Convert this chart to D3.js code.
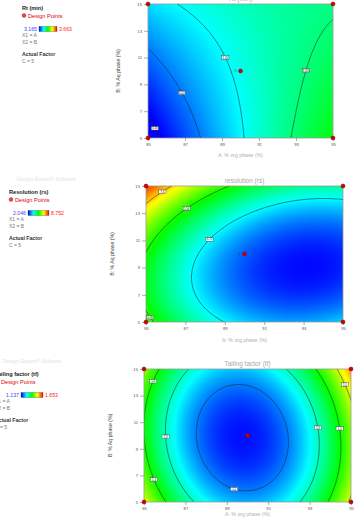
<!DOCTYPE html>
<html><head><meta charset="utf-8">
<script src="https://cdn.jsdelivr.net/npm/d3@7"></script>
<style>body{margin:0;background:#fff}svg{display:block;font-family:"Liberation Sans",Arial,sans-serif}</style>
</head><body>
<svg id="c" width="362" height="517"></svg>
<script>
// ---- data ----
const ticksA = [85, 87, 89, 91, 93, 95];
const ticksB = [5, 7, 9, 11, 13, 15];
const designA = [85, 95, 85, 95, 90];
const designB = [5, 5, 15, 15, 10];
const centerReplicates = "5";

// quadratic response-surface coefficients (coded units): [b0, A, B, AB, A^2, B^2]
const rtCoef = [3.299, 0.0864, 0.0182, -0.0477, -0.010, 0.004];
const rtLevels = [3.16, 3.225, 3.29, 3.355];
const rtRange = [3.165, 3.663];
const rtLabels = [[3.16, 85.2, 5.6], [3.225, 86.7, 8.3], [3.29, 89.2, 11.0], [3.355, 93.2, 10.2]];

const rsCoef = [2.69, -1.62, 0.90, -0.42, 1.22, 1.63];
const rsLevels = [3.72, 5.56, 7.40];
const rsRange = [2.046, 8.752];
const rsLabels = [[7.40, 85.9, 14.4], [5.56, 87.1, 13.3], [3.72, 88.1, 11.2], [5.56, 85.4, 5.6]];

const tfCoef = [1.145, 0.029, 0.007, 0.026, 0.284, 0.088];
const tfLevels = [1.2, 1.3, 1.4, 1.5];
const tfRange = [1.137, 1.653];
const tfLabels = [[1.2, 89.4, 6.3], [1.3, 85.9, 9.9], [1.3, 93.4, 10.6], [1.4, 85.3, 14.2],
                  [1.4, 85.5, 6.7], [1.4, 94.4, 10.5], [1.5, 94.5, 13.7]];

// ---- drawing ----
const svg = d3.select("#c");
const defs = svg.append("defs");
const stopsT = [0, 0.25, 0.5, 0.75, 1];
const stopsC = ["#0000ff", "#00ffff", "#00ff00", "#ffff00", "#ff0000"];

function drawPlot(cfg, idx) {
  const {box, coef, levels, range, labels, title, legend} = cfg;
  const g = svg.append("g");
  const x = d3.scaleLinear().domain([85, 95]).range([box.x0, box.x1]);
  const y = d3.scaleLinear().domain([5, 15]).range([box.y1, box.y0]);
  const model = (a, b) => coef[0] + coef[1]*a + coef[2]*b + coef[3]*a*b + coef[4]*a*a + coef[5]*b*b;
  const f = (A, B) => model((A - 90) / 5, (B - 10) / 5);
  const color = d3.scaleLinear()
    .domain(stopsT.map(t => range[0] + t * (range[1] - range[0])))
    .range(stopsC).clamp(true);

  // raster fill
  const w = box.x1 - box.x0, h = box.y1 - box.y0;
  const cv = document.createElement("canvas"); cv.width = w; cv.height = h;
  const ctx = cv.getContext("2d"); const img = ctx.createImageData(w, h);
  for (let j = 0; j < h; j++) for (let i = 0; i < w; i++) {
    const c = d3.rgb(color(f(x.invert(box.x0 + i + 0.5), y.invert(box.y0 + j + 0.5))));
    const k = 4 * (j * w + i);
    img.data[k] = c.r; img.data[k+1] = c.g; img.data[k+2] = c.b; img.data[k+3] = 255;
  }
  ctx.putImageData(img, 0, 0);
  g.append("image").attr("x", box.x0).attr("y", box.y0).attr("width", w).attr("height", h)
    .attr("preserveAspectRatio", "none").attr("href", cv.toDataURL());

  // contours
  const n = 180, lo = -1.1, hi = 1.1;
  const vals = new Array(n * n);
  for (let j = 0; j < n; j++) for (let i = 0; i < n; i++) {
    const a = lo + (hi - lo) * i / (n - 1), b = hi - (hi - lo) * j / (n - 1);
    vals[j * n + i] = model(a, b);
  }
  const cs = d3.contours().size([n, n]).thresholds(levels)(vals);
  const toPx = (px, py) => {
    const a = lo + (hi - lo) * (px - 0.5) / (n - 1), b = hi - (hi - lo) * (py - 0.5) / (n - 1);
    return [x(90 + 5 * a), y(10 + 5 * b)];
  };
  const proj = d3.geoTransform({point(px, py) { const p = toPx(px, py); this.stream.point(p[0], p[1]); }});
  const path = d3.geoPath(proj);
  const clipId = "clip" + idx;
  defs.append("clipPath").attr("id", clipId).append("rect")
    .attr("x", box.x0).attr("y", box.y0).attr("width", w).attr("height", h);
  const cg = g.append("g").attr("clip-path", `url(#${clipId})`);
  cg.selectAll("path").data(cs).join("path").attr("d", path)
    .attr("fill", "none").attr("stroke", "#1a2a2a").attr("stroke-width", 0.6);

  // frame
  g.append("rect").attr("x", box.x0).attr("y", box.y0).attr("width", w).attr("height", h)
    .attr("fill", "none").attr("stroke", "#9a9a9a").attr("stroke-width", 0.8);

  // axes
  const ax = g.append("g").attr("transform", `translate(0,${box.y1})`)
    .call(d3.axisBottom(x).tickValues(ticksA).tickSize(3).tickPadding(2));
  const ay = g.append("g").attr("transform", `translate(${box.x0},0)`)
    .call(d3.axisLeft(y).tickValues(ticksB).tickSize(4).tickPadding(2));
  [ax, ay].forEach(a => {
    a.select(".domain").remove();
    a.selectAll("line").attr("stroke", "#777").attr("stroke-width", 0.6);
    a.selectAll("text").attr("font-size", 4.2).attr("fill", "#555").attr("font-family", "Liberation Sans, Arial");
  });

  // contour labels snapped to contour lines
  labels.forEach(([lev, A, B]) => {
    const c = cs.find(d => d.value === lev); if (!c) return;
    const tx = x(A), ty = y(B); let best = null, bd = Infinity;
    c.coordinates.forEach(poly => poly.forEach(ring => ring.forEach(([px, py]) => {
      const p = toPx(px, py);
      if (p[0] < box.x0 + 3 || p[0] > box.x1 - 3 || p[1] < box.y0 + 2 || p[1] > box.y1 - 2) return;
      const d = (p[0]-tx)**2 + (p[1]-ty)**2; if (d < bd) { bd = d; best = p; }
    })));
    if (!best) return;
    const lg = g.append("g").attr("transform", `translate(${best[0]},${best[1]})`);
    lg.append("rect").attr("x", -3.6).attr("y", -1.8).attr("width", 7.2).attr("height", 3.6)
      .attr("fill", "#fff").attr("stroke", "#333").attr("stroke-width", 0.4);
    lg.append("text").attr("text-anchor", "middle").attr("y", 1.1).attr("font-size", 2.8)
      .attr("fill", "#111").text(String(lev));
  });

  // design points
  designA.forEach((A, i) => {
    g.append("circle").attr("cx", x(A)).attr("cy", y(designB[i])).attr("r", 2)
      .attr("fill", "#d40000").attr("stroke", "#7a0000").attr("stroke-width", 0.5);
  });
  g.append("text").attr("x", x(90) - 4).attr("y", y(10) + 1.4).attr("text-anchor", "end")
    .attr("font-size", 3.5).attr("fill", "#333").text(centerReplicates);

  // titles
  g.append("text").attr("x", (box.x0 + box.x1) / 2).attr("y", box.y0 - 3).attr("text-anchor", "middle")
    .attr("font-size", 6.5).attr("fill", "#aaa").text(title);
  g.append("text").attr("x", (box.x0 + box.x1) / 2).attr("y", box.y1 + cfg.xTitleDy).attr("text-anchor", "middle")
    .attr("font-size", 5.2).attr("fill", "#b0b0b0").text("A: % org phase (%)");
  g.append("text").attr("transform", `translate(${box.x0 - cfg.yTitleDx},${(box.y0 + box.y1) / 2}) rotate(-90)`)
    .attr("text-anchor", "middle").attr("font-size", 5.2).attr("fill", "#444").text("B: % Aq phase (%)");

  // legend
  const L = legend;
  const lgd = g.append("g").attr("transform", `translate(${L.x},${L.y})`);
  if (L.software) lgd.append("text").attr("x", 8).attr("y", -13).attr("font-size", 5.2).attr("fill", "#e4e4e4").text("Design-Expert® Software");
  lgd.append("text").attr("y", 0).attr("font-size", 5.6).attr("font-weight", "bold").attr("fill", "#222").text(L.name);
  lgd.append("circle").attr("cx", 2).attr("cy", 5.5).attr("r", 1.9).attr("fill", "#e05050").attr("stroke", "#a00").attr("stroke-width", 0.4);
  lgd.append("text").attr("x", 6).attr("y", 7.5).attr("font-size", 5.6).attr("fill", "#e00000").text("Design Points");
  const gid = "grad" + idx;
  const gr = defs.append("linearGradient").attr("id", gid);
  stopsT.forEach((t, i) => gr.append("stop").attr("offset", t).attr("stop-color", stopsC[i]));
  lgd.append("text").attr("x", L.barX - 2).attr("y", 20.5).attr("text-anchor", "end").attr("font-size", 5.2).attr("fill", "#4040ff").text(range[0].toFixed(3));
  lgd.append("rect").attr("x", L.barX).attr("y", 16.5).attr("width", L.barW).attr("height", 5).attr("fill", `url(#${gid})`).attr("stroke", "#333").attr("stroke-width", 0.3);
  lgd.append("text").attr("x", L.barX + L.barW + 2).attr("y", 20.5).attr("font-size", 5.2).attr("fill", "#ff2020").text(range[1].toFixed(3));
  lgd.append("text").attr("x", 0).attr("y", 27).attr("font-size", 5).attr("fill", "#777").text("X1 = A");
  lgd.append("text").attr("x", 0).attr("y", 33.5).attr("font-size", 5).attr("fill", "#777").text("X2 = B");
  lgd.append("text").attr("x", 0).attr("y", 46).attr("font-size", 5.2).attr("font-weight", "bold").attr("fill", "#333").text("Actual Factor");
  lgd.append("text").attr("x", 0).attr("y", 52.5).attr("font-size", 5).attr("fill", "#777").text("C = 5");
}

drawPlot({box: {x0: 148, x1: 333, y0: 4, y1: 138}, coef: rtCoef, levels: rtLevels, range: rtRange,
  labels: rtLabels, title: "Rt (min)", xTitleDy: 19, yTitleDx: 28,
  legend: {x: 22, y: 10, name: "Rt (min)", barX: 39 - 22, barW: 18, software: false}}, 0);
drawPlot({box: {x0: 146, x1: 343, y0: 186, y1: 322}, coef: rsCoef, levels: rsLevels, range: rsRange,
  labels: rsLabels, title: "resolution (rs)", xTitleDy: 20, yTitleDx: 32,
  legend: {x: 9, y: 194, name: "Resolution (rs)", barX: 28 - 9, barW: 21, software: true}}, 1);
drawPlot({box: {x0: 144, x1: 351, y0: 369, y1: 502}, coef: tfCoef, levels: tfLevels, range: tfRange,
  labels: tfLabels, title: "Tailing factor (tf)", xTitleDy: 14, yTitleDx: 32,
  legend: {x: -5, y: 376, name: "Tailing factor (tf)", barX: 21 + 5, barW: 22, software: true}}, 2);
</script>
</body></html>
